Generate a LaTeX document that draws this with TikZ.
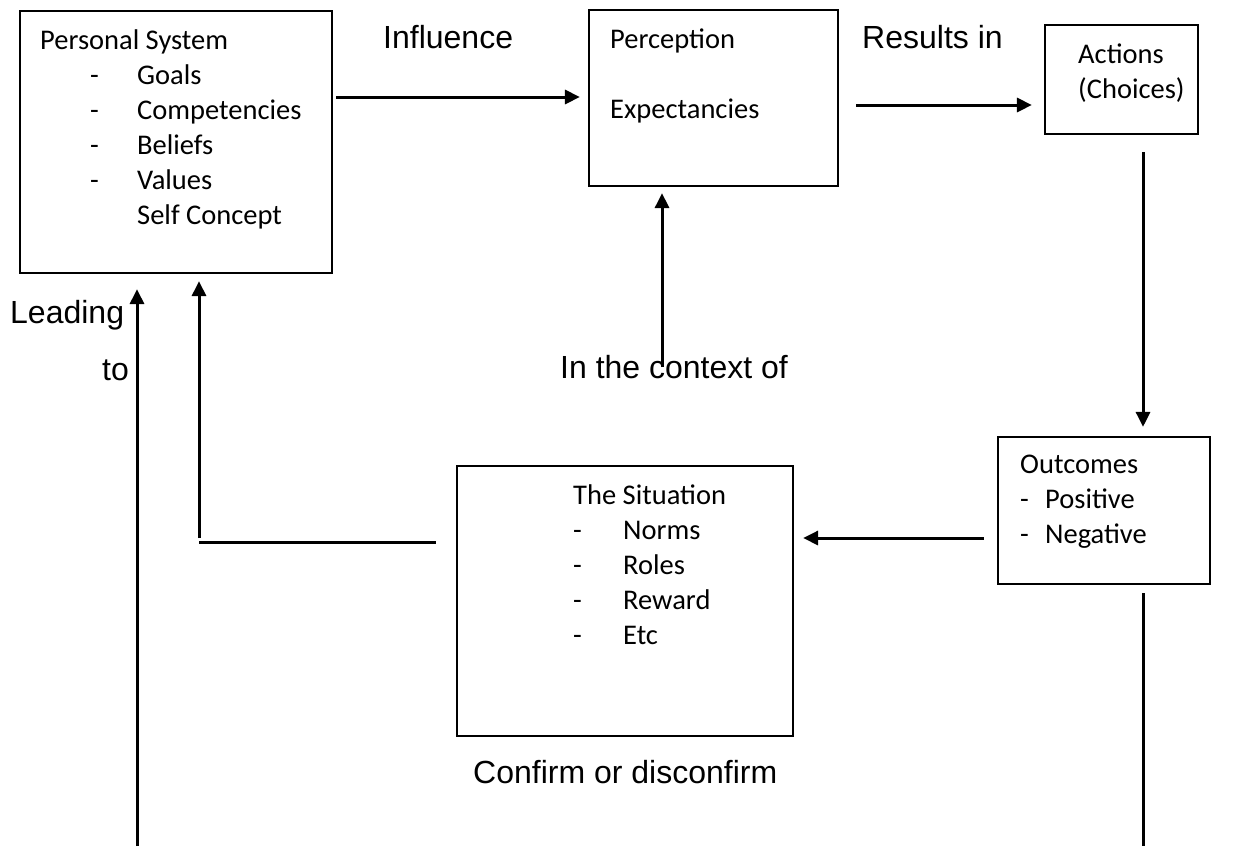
\documentclass[tikz,border=0pt]{standalone}
\usepackage{fontspec}
\setmainfont{Carlito}
\newfontfamily\arialfont{Liberation Sans}
\usetikzlibrary{arrows.meta,positioning}
\newcommand{\dashitem}[2]{\makebox[#1][l]{-}#2}

\begin{document}
\begin{tikzpicture}[x=1pt,y=1pt,
  box/.style={draw=black, line width=2.2pt, inner sep=0pt},
  boxtext/.style={font=\fontsize{28.5}{35}\selectfont, align=left, anchor=base west, inner sep=0pt},
  lbl/.style={font=\arialfont\fontsize{32}{38}\selectfont, anchor=base west, inner sep=0pt},
  conn/.style={line width=3pt},
  arr/.style={conn, -{Triangle[length=15pt,width=14pt]}}]
\useasboundingbox (0,0) rectangle (1244,-846);

\node[box, minimum width=312pt, minimum height=262pt] (ps) at (176,-142) {};
\node[box, minimum width=249pt, minimum height=176pt] (pe) at (713.5,-98) {};
\node[box, minimum width=153pt, minimum height=109pt] (ac) at (1121.5,-79.5) {};
\node[box, minimum width=212pt, minimum height=147pt] (oc) at (1104,-510.5) {};
\node[box, minimum width=336pt, minimum height=270pt] (si) at (625,-601) {};

% anchored at the baseline of the last line
\node[boxtext] (pstext) at (40,-224) {Personal System\\
  \hspace*{50pt}\dashitem{47pt}{Goals}\\
  \hspace*{50pt}\dashitem{47pt}{Competencies}\\
  \hspace*{50pt}\dashitem{47pt}{Beliefs}\\
  \hspace*{50pt}\dashitem{47pt}{Values}\\
  \hspace*{97pt}Self Concept};
\node[boxtext] (petext) at (610,-118) {Perception\\[35pt]Expectancies};
\node[boxtext] (actext) at (1078,-98) {Actions\\(Choices)};
\node[boxtext] (octext) at (1020,-543) {Outcomes\\
  \dashitem{25pt}{Positive}\\
  \dashitem{25pt}{Negative}};
\node[boxtext] (sitext) at (573,-644) {The Situation\\
  \dashitem{50pt}{Norms}\\
  \dashitem{50pt}{Roles}\\
  \dashitem{50pt}{Reward}\\
  \dashitem{50pt}{Etc}};

\node[lbl] (infl) at (383,-48) {Influence};
\node[lbl] (res) at (862,-48) {Results in};
\node[lbl] (ctx) at (560,-378) {In the context of};
\node[lbl] (lead) at (10,-323) {Leading};
\node[lbl] (leadto) at (102,-380) {to};
\node[lbl] (conf) at (473,-783) {Confirm or disconfirm};

\coordinate (ctxfoot) at (662,-367);
\coordinate (bend) at (199,-542);
\coordinate (leftfoot) at (137,-846);
\coordinate (rightfoot) at (1143,-846);

\draw[arr, shorten <=3pt, shorten >=8pt] (ps.east |- 0,-97) -- (pe.west |- 0,-97);
\draw[arr, shorten <=17pt, shorten >=12pt] (pe.east |- 0,-105) -- (ac.west |- 0,-105);
\draw[arr, shorten <=17pt, shorten >=9pt] (ac.south -| rightfoot) -- (oc.north -| rightfoot);
\draw[arr, shorten <=13pt, shorten >=9pt] (oc.west |- 0,-538) -- (si.east |- 0,-538);
\draw[arr, shorten >=6pt] (ctxfoot) -- (pe.south -| ctxfoot);
\draw[conn, shorten <=20pt] (si.west |- bend) -- (bend);
\draw[arr, shorten <=4pt, shorten >=7pt] (bend) -- (ps.south -| bend);
\draw[arr, shorten >=15pt] (leftfoot) -- (ps.south -| leftfoot);
\draw[conn, shorten <=8pt] (oc.south -| rightfoot) -- (rightfoot);
\end{tikzpicture}
\end{document}
